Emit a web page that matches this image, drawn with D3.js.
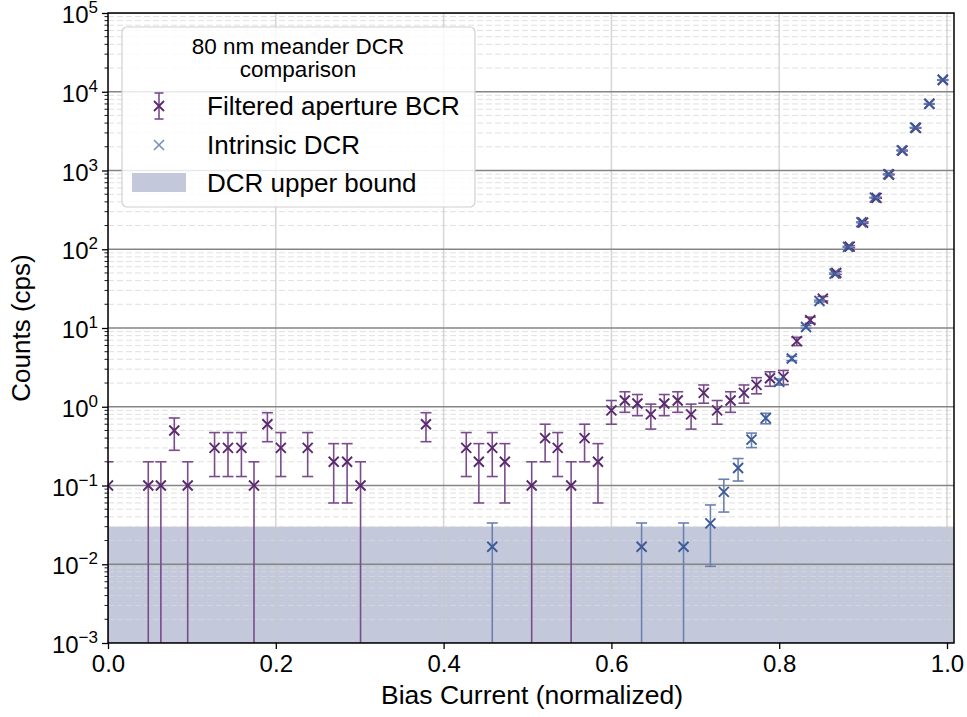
<!DOCTYPE html>
<html>
<head>
    <script type="text/javascript" src="https://d3js.org/d3.v7.min.js"></script>
    <style>
        body { margin: 0; background: #fff; }
        text { font-family: "Liberation Sans", Arial, Helvetica, sans-serif; }
    </style>
</head>
<body>
<div id="svgcontainer"></div>
<script>
    // Filtered aperture BCR (purple)
    var bcrX = [0.000, 0.048, 0.063, 0.079, 0.095, 0.127, 0.143, 0.159, 0.174, 0.190, 0.206,
        0.238, 0.269, 0.285, 0.301, 0.379, 0.427, 0.442, 0.458, 0.473, 0.505, 0.521, 0.536,
        0.552, 0.568, 0.584, 0.600, 0.616, 0.631, 0.647, 0.663, 0.679, 0.695, 0.710, 0.726,
        0.742, 0.758, 0.773, 0.789, 0.805, 0.821, 0.837, 0.852, 0.868, 0.884, 0.900, 0.916,
        0.931, 0.947, 0.963, 0.979, 0.995];
    var bcrY = [0.1, 0.1, 0.1, 0.5, 0.1, 0.3, 0.3, 0.3, 0.1, 0.6, 0.3,
        0.3, 0.2, 0.2, 0.1, 0.6, 0.3, 0.2, 0.3, 0.2, 0.1, 0.4, 0.3,
        0.1, 0.4, 0.2, 0.9, 1.2, 1.1, 0.8, 1.1, 1.2, 0.8, 1.5, 0.9,
        1.2, 1.5, 1.9, 2.3, 2.4, 6.8, 12.6, 23.6, 50, 108, 218, 450,
        890, 1790, 3480, 7000, 14100];
    var bcrErr = [0.1, 0.1, 0.1, 0.22, 0.1, 0.17, 0.17, 0.17, 0.1, 0.24, 0.17,
        0.17, 0.14, 0.14, 0.1, 0.24, 0.17, 0.14, 0.17, 0.14, 0.1, 0.2, 0.17,
        0.1, 0.2, 0.14, 0.3, 0.35, 0.33, 0.28, 0.33, 0.35, 0.28, 0.39, 0.3,
        0.35, 0.39, 0.44, 0.48, 0.49, 0.82, 1.12, 1.54, 2.2, 3.3, 4.7, 6.7,
        9.4, 13.4, 18.7, 26.5, 37.5];

    // Intrinsic DCR (blue)
    var dcrX = [0.458, 0.636, 0.686, 0.718, 0.734, 0.751, 0.767, 0.784, 0.800, 0.815, 0.832,
        0.848, 0.866, 0.882, 0.898, 0.914, 0.930, 0.946, 0.962, 0.979, 0.995];
    var dcrY = [0.0167, 0.0167, 0.0167, 0.033, 0.083, 0.167, 0.383, 0.717, 2.07, 4.1, 10.3,
        22, 49, 107, 220, 452, 895, 1800, 3500, 7050, 14200];
    var dcrErr = [0.0167, 0.0167, 0.0167, 0.0236, 0.037, 0.053, 0.08, 0.109, 0.186, 0.26, 0.41,
        0.6, 0.9, 1.34, 1.9, 2.75, 3.9, 5.5, 7.6, 10.8, 15.4];

    var upperBound = 0.03; // DCR upper bound band
    var xTicks = [0.0, 0.2, 0.4, 0.6, 0.8, 1.0];
    var yDecades = [-3, -2, -1, 0, 1, 2, 3, 4, 5];
    var legendTitle = ["80 nm meander DCR", "comparison"];
    var legendLabels = ["Filtered aperture BCR", "Intrinsic DCR", "DCR upper bound"];

    var purple = "#5a2a6e", purpleErr = "#7a4c8c";
    var blue = "#3d5a99", blueErr = "#6a80b2";
    var bandColor = "#c3c9db";

    var width = 967, height = 717;
    // plot box (note: "top" is reserved by window, so use p* names)
    var pLeft = 108, pRight = 954, pTop = 13, pBottom = 643;
    var xMark = "M-5,-5L5,5M-5,5L5,-5";

    var svg = d3.select("#svgcontainer")
        .append("svg")
        .attr("width", width)
        .attr("height", height);

    var x = d3.scaleLinear().domain([0, 1.00834]).range([pLeft, pRight]);
    var y = d3.scaleLog().domain([1e-3, 1e5]).range([pBottom, pTop]);

    svg.append("clipPath").attr("id", "plotclip")
        .append("rect")
        .attr("x", pLeft).attr("y", pTop)
        .attr("width", pRight - pLeft).attr("height", pBottom - pTop);

    var plot = svg.append("g").attr("clip-path", "url(#plotclip)");

    // shaded band
    plot.append("rect")
        .attr("x", pLeft)
        .attr("y", y(upperBound))
        .attr("width", pRight - pLeft)
        .attr("height", y(1e-3) - y(upperBound))
        .attr("fill", bandColor);

    // minor y values
    var minors = [];
    yDecades.forEach(function (d) {
        if (d < 5) for (var m = 2; m <= 9; m++) minors.push(m * Math.pow(10, d));
    });

    // minor grid (dashed)
    plot.selectAll(".minorgrid").data(minors).enter().append("line")
        .attr("x1", pLeft).attr("x2", pRight)
        .attr("y1", function (d) { return y(d); })
        .attr("y2", function (d) { return y(d); })
        .attr("stroke", "#d8d8d8")
        .attr("stroke-opacity", 0.8)
        .attr("stroke-width", 1)
        .attr("stroke-dasharray", "6,3");

    // x grid
    plot.selectAll(".xgrid").data(xTicks).enter().append("line")
        .attr("x1", function (d) { return x(d); })
        .attr("x2", function (d) { return x(d); })
        .attr("y1", pTop).attr("y2", pBottom)
        .attr("stroke", "#c8c8c8")
        .attr("stroke-opacity", 0.75)
        .attr("stroke-width", 1.5);

    // major y grid
    plot.selectAll(".ygrid").data(yDecades).enter().append("line")
        .attr("x1", pLeft).attr("x2", pRight)
        .attr("y1", function (d) { return y(Math.pow(10, d)); })
        .attr("y2", function (d) { return y(Math.pow(10, d)); })
        .attr("stroke", "#858585")
        .attr("stroke-width", 1.3);

    // error bars + markers
    function drawSeries(xs, ys, errs, markColor, errColor) {
        var pts = xs.map(function (d, i) { return { x: d, y: ys[i], e: errs[i] }; });
        var g = plot.append("g");
        var capW = 5.5;
        pts.forEach(function (p) {
            var cx = x(p.x);
            var lo = p.y - p.e;
            var yHi = y(p.y + p.e);
            var yLo = lo > 0 ? y(lo) : pBottom + 20;
            g.append("line")
                .attr("x1", cx).attr("x2", cx)
                .attr("y1", yHi).attr("y2", yLo)
                .attr("stroke", errColor).attr("stroke-width", 1.6);
            g.append("line")
                .attr("x1", cx - capW).attr("x2", cx + capW)
                .attr("y1", yHi).attr("y2", yHi)
                .attr("stroke", errColor).attr("stroke-width", 1.6);
            if (lo > 0) {
                g.append("line")
                    .attr("x1", cx - capW).attr("x2", cx + capW)
                    .attr("y1", yLo).attr("y2", yLo)
                    .attr("stroke", errColor).attr("stroke-width", 1.6);
            }
        });
        g.selectAll(".mark").data(pts).enter().append("path")
            .attr("d", xMark)
            .attr("transform", function (d) { return "translate(" + x(d.x) + "," + y(d.y) + ")"; })
            .attr("stroke", markColor)
            .attr("stroke-width", 1.9)
            .attr("fill", "none");
    }

    drawSeries(bcrX, bcrY, bcrErr, purple, purpleErr);
    drawSeries(dcrX, dcrY, dcrErr, blue, blueErr);

    // axes
    var xAxis = svg.append("g")
        .attr("transform", "translate(0," + pBottom + ")")
        .call(d3.axisBottom(x).tickValues(xTicks).tickFormat(d3.format(".1f")).tickSize(6).tickPadding(6));
    xAxis.select(".domain").remove();
    xAxis.selectAll(".tick line").attr("stroke", "#000").attr("stroke-width", 1.3);
    xAxis.selectAll(".tick text").attr("font-size", "24px").attr("fill", "#000")
        .attr("font-family", "Liberation Sans, Arial, sans-serif");

    var yAxis = svg.append("g")
        .attr("transform", "translate(" + pLeft + ",0)")
        .call(d3.axisLeft(y).tickValues(yDecades.map(function (d) { return Math.pow(10, d); }))
            .tickFormat("").tickSize(6));
    yAxis.select(".domain").remove();
    yAxis.selectAll(".tick line").attr("stroke", "#000").attr("stroke-width", 1.3);

    // y minor ticks
    svg.append("g").selectAll("line").data(minors).enter().append("line")
        .attr("x1", pLeft - 3.5).attr("x2", pLeft)
        .attr("y1", function (d) { return y(d); })
        .attr("y2", function (d) { return y(d); })
        .attr("stroke", "#000").attr("stroke-width", 0.9);

    // y tick labels 10^n
    var ylab = svg.append("g").selectAll("text").data(yDecades).enter().append("text")
        .attr("x", pLeft - 10)
        .attr("y", function (d) { return y(Math.pow(10, d)) + 10; })
        .attr("text-anchor", "end")
        .attr("font-size", "24px")
        .attr("fill", "#000");
    ylab.append("tspan").text("10");
    ylab.append("tspan")
        .attr("dy", -10)
        .attr("font-size", "17px")
        .text(function (d) { return d < 0 ? "\u2212" + Math.abs(d) : String(d); });

    // frame
    svg.append("rect")
        .attr("x", pLeft).attr("y", pTop)
        .attr("width", pRight - pLeft).attr("height", pBottom - pTop)
        .attr("fill", "none")
        .attr("stroke", "#000")
        .attr("stroke-width", 1.5);

    // axis labels
    svg.append("text")
        .attr("x", (pLeft + pRight) / 2 + 1)
        .attr("y", 704)
        .attr("text-anchor", "middle")
        .attr("font-size", "26.5px")
        .text("Bias Current (normalized)");

    svg.append("text")
        .attr("transform", "translate(30," + ((pTop + pBottom) / 2) + ") rotate(-90)")
        .attr("text-anchor", "middle")
        .attr("font-size", "26px")
        .text("Counts (cps)");

    // legend
    var lg = svg.append("g");
    lg.append("rect")
        .attr("x", 122).attr("y", 27)
        .attr("width", 353).attr("height", 180)
        .attr("rx", 5).attr("ry", 5)
        .attr("fill", "#fff").attr("fill-opacity", 0.82)
        .attr("stroke", "#d0d0d0").attr("stroke-width", 1.2);

    lg.selectAll(".ltitle").data(legendTitle).enter().append("text")
        .attr("x", 298)
        .attr("y", function (d, i) { return 54 + i * 23; })
        .attr("text-anchor", "middle")
        .attr("font-size", "22.5px")
        .text(function (d) { return d; });

    lg.selectAll(".llabel").data(legendLabels).enter().append("text")
        .attr("x", 207)
        .attr("y", function (d, i) { return 115 + i * 38.5; })
        .attr("font-size", "26px")
        .text(function (d) { return d; });

    // legend handles
    var hx = 159;
    lg.append("line").attr("x1", hx).attr("x2", hx).attr("y1", 93).attr("y2", 119)
        .attr("stroke", purpleErr).attr("stroke-width", 1.6);
    lg.append("line").attr("x1", hx - 4.5).attr("x2", hx + 4.5).attr("y1", 93).attr("y2", 93)
        .attr("stroke", purpleErr).attr("stroke-width", 1.6);
    lg.append("line").attr("x1", hx - 4.5).attr("x2", hx + 4.5).attr("y1", 119).attr("y2", 119)
        .attr("stroke", purpleErr).attr("stroke-width", 1.6);
    lg.append("path").attr("d", xMark)
        .attr("transform", "translate(" + hx + ",106)")
        .attr("stroke", purple).attr("stroke-width", 1.8).attr("fill", "none");
    lg.append("path").attr("d", xMark)
        .attr("transform", "translate(" + hx + ",145)")
        .attr("stroke", "#7b8dbd").attr("stroke-width", 1.6).attr("fill", "none");
    lg.append("rect")
        .attr("x", 132).attr("y", 173).attr("width", 54).attr("height", 19)
        .attr("fill", bandColor);
</script>
</body>
</html>
